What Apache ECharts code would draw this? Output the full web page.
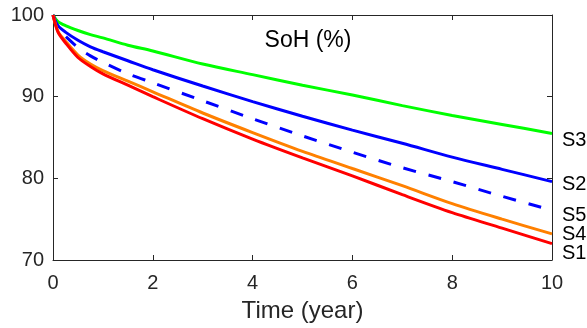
<!DOCTYPE html>
<html>
<head>
<meta charset="utf-8">
<script src="https://cdn.jsdelivr.net/npm/echarts@6/dist/echarts.min.js"></script>
<style>
  html, body { margin: 0; padding: 0; background: #fff; }
  #chart { width: 587px; height: 328px; }
</style>
</head>
<body>
<div id="chart"></div>
<script>
// time in years
const years = [0, 0.1, 0.25, 0.5, 0.75, 1, 1.5, 2, 3, 4, 5, 6, 7, 8, 9, 10];

// SoH (%) per scenario
const s1 = [100, 97.9, 96.6, 94.8, 93.7, 92.8, 91.4, 90.0, 87.3, 84.8, 82.5, 80.3, 78.0, 75.8, 73.9, 72.0];
const s2 = [100, 98.7, 97.9, 96.9, 96.1, 95.5, 94.4, 93.3, 91.3, 89.4, 87.6, 85.9, 84.3, 82.6, 81.1, 79.6];
const s3 = [100, 99.2, 98.7, 98.1, 97.6, 97.2, 96.3, 95.6, 94.0, 92.7, 91.4, 90.2, 88.9, 87.7, 86.6, 85.5];
const s4 = [100, 98.0, 96.8, 95.1, 94.0, 93.2, 91.9, 90.6, 88.0, 85.6, 83.3, 81.2, 79.1, 76.9, 75.0, 73.2];
const s5 = [100, 98.3, 97.4, 96.0, 95.0, 94.2, 92.8, 91.7, 89.5, 87.3, 85.2, 83.2, 81.3, 79.6, 77.8, 76.1];

const font = 'Liberation Sans, Arial, sans-serif';
const axisColor = '#262626';

function pairs(vals) {
    return years.map((t, i) => [t, vals[i]]);
}

// one line series with its name drawn at the right end
function line(name, vals, color, dashed, labelDy) {
    return {
        name: name,
        type: 'line',
        data: pairs(vals),
        showSymbol: false,
        smooth: 0.3,
        lineStyle: { color: color, width: 3, type: dashed ? [13, 13] : 'solid' },
        endLabel: {
            show: true,
            formatter: name,
            color: '#000',
            fontFamily: font,
            fontSize: 20,
            distance: 10,
            offset: [0, labelDy]
        },
        z: 3
    };
}

const chart = echarts.init(document.getElementById('chart'));
chart.setOption({
    animation: false,
    textStyle: { fontFamily: font },
    grid: { left: 53, right: 35, top: 15, bottom: 67, containLabel: false },
    title: {
        text: 'SoH (%)',
        left: 303,
        top: 24,
        textAlign: 'center',
        textStyle: { fontFamily: font, fontSize: 23, fontWeight: 'normal', color: '#000' }
    },
    xAxis: [
        {
            type: 'value', min: 0, max: 10, interval: 2,
            name: 'Time (year)', nameLocation: 'middle', nameGap: 39,
            nameTextStyle: { fontFamily: font, fontSize: 24, color: '#262626' },
            axisLine: { show: true, onZero: false, lineStyle: { color: axisColor, width: 1 } },
            axisTick: { show: true, inside: true, length: 5, lineStyle: { color: axisColor } },
            axisLabel: { fontFamily: font, fontSize: 20, color: '#262626', margin: 13 },
            splitLine: { show: false }
        },
        {
            type: 'value', min: 0, max: 10, interval: 2, position: 'top',
            axisLine: { show: true, onZero: false, lineStyle: { color: axisColor, width: 1 } },
            axisTick: { show: true, inside: true, length: 5, lineStyle: { color: axisColor } },
            axisLabel: { show: false },
            splitLine: { show: false }
        }
    ],
    yAxis: [
        {
            type: 'value', min: 70, max: 100, interval: 10,
            axisLine: { show: true, onZero: false, lineStyle: { color: axisColor, width: 1 } },
            axisTick: { show: true, inside: true, length: 5, lineStyle: { color: axisColor } },
            axisLabel: { fontFamily: font, fontSize: 20, color: '#262626', margin: 9 },
            splitLine: { show: false }
        },
        {
            type: 'value', min: 70, max: 100, interval: 10, position: 'right',
            axisLine: { show: true, onZero: false, lineStyle: { color: axisColor, width: 1 } },
            axisTick: { show: true, inside: true, length: 5, lineStyle: { color: axisColor } },
            axisLabel: { show: false },
            splitLine: { show: false }
        }
    ],
    series: [
        line('S3', s3, '#00ff00', false, 7),
        line('S2', s2, '#0000ff', false, 3),
        line('S5', s5, '#0000ff', true, 5),
        line('S4', s4, '#ff8000', false, 1),
        line('S1', s1, '#ff0000', false, 10)
    ]
});
</script>
</body>
</html>
